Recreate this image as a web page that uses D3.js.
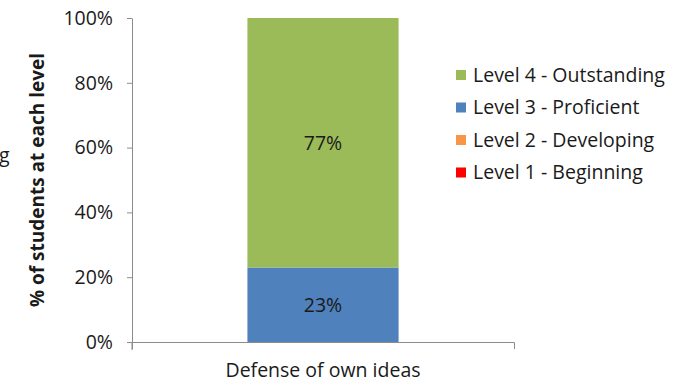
<!DOCTYPE html>
<html><head><meta charset="utf-8">
<script src="https://cdn.jsdelivr.net/npm/d3@7"></script>
<style>
html,body{margin:0;padding:0;background:#fff;}
svg text{font-family:"Open Sans",sans-serif;fill:#1a1a1a;}
</style></head>
<body><svg id="chart" width="687" height="383"></svg>
<script>
const categories = ["Defense of own ideas"];
const seriesNames = ["Level 1 - Beginning","Level 2 - Developing","Level 3 - Proficient","Level 4 - Outstanding"];
const seriesColors = ["#FF0000","#F79646","#4F81BD","#9BBB59"];
const level1 = [0];
const level2 = [0];
const level3 = [0.23];
const level4 = [0.77];
const yTicks = [0,0.2,0.4,0.6,0.8,1.0];
const yTitle = "% of students at each level";

const svg = d3.select("#chart");
const L=132, R=514, T=18, B=342;
const FS = "19.5px";
const x = d3.scaleBand().domain(categories).range([L,R]).paddingInner(0.433).paddingOuter(0.433);
const y = d3.scaleLinear().domain([0,1]).range([B,T]);

const rows = categories.map((c,i)=>({cat:c, s0:level1[i], s1:level2[i], s2:level3[i], s3:level4[i]}));
const stack = d3.stack().keys(["s0","s1","s2","s3"])(rows);

// axes
const yAxis = svg.append("g").attr("transform",`translate(${L},0)`)
  .call(d3.axisLeft(y).tickValues(yTicks).tickFormat(d3.format(".0%")).tickSize(5).tickSizeOuter(0));
yAxis.select(".domain").attr("stroke","#8c8c8c");
yAxis.selectAll(".tick line").attr("stroke","#8c8c8c");
yAxis.selectAll(".tick text").attr("font-size",FS).attr("x",-19).attr("fill","#1a1a1a");

const xAxis = svg.append("g").attr("transform",`translate(0,${B})`)
  .call(d3.axisBottom(x).tickSize(0).tickSizeOuter(7));
xAxis.select(".domain").attr("stroke","#8c8c8c");
xAxis.selectAll(".tick text").attr("font-size",FS).attr("dy","1.62em").attr("fill","#1a1a1a");
svg.append("line").attr("x1",L).attr("x2",L).attr("y1",B).attr("y2",B+8).attr("stroke","#8c8c8c");

// bars
stack.forEach((s,k)=>{
  svg.append("g").selectAll("rect").data(s).join("rect")
    .attr("x",d=>x(d.data.cat)).attr("width",x.bandwidth())
    .attr("y",d=>y(d[1])).attr("height",d=>y(d[0])-y(d[1]))
    .attr("fill",seriesColors[k]);
  svg.append("g").selectAll("text").data(s.filter(d=>d[1]-d[0]>0)).join("text")
    .attr("x",d=>x(d.data.cat)+x.bandwidth()/2).attr("y",d=>y((d[0]+d[1])/2))
    .attr("text-anchor","middle").attr("dy","0.35em").attr("font-size",FS)
    .text(d=>d3.format(".0%")(d[1]-d[0]));
});

// y title
svg.append("text").attr("transform",`translate(37,${(T+B)/2}) rotate(-90)`)
  .attr("text-anchor","middle").attr("dy","0.35em").attr("font-size","19px").attr("font-weight","bold")
  .text(yTitle);

// cut-off fragment at left edge
svg.append("text").attr("x",-1).attr("y",162).attr("font-size",FS).text("g");

// legend
const legendOrder = [3,2,1,0];
const lg = svg.append("g");
legendOrder.forEach((k,i)=>{
  const cy = 75 + i*32.5;
  lg.append("rect").attr("x",456).attr("y",cy-5).attr("width",10).attr("height",10).attr("fill",seriesColors[k]);
  lg.append("text").attr("x",473).attr("y",cy).attr("dy","0.35em").attr("font-size",FS).text(seriesNames[k]);
});
</script></body></html>
